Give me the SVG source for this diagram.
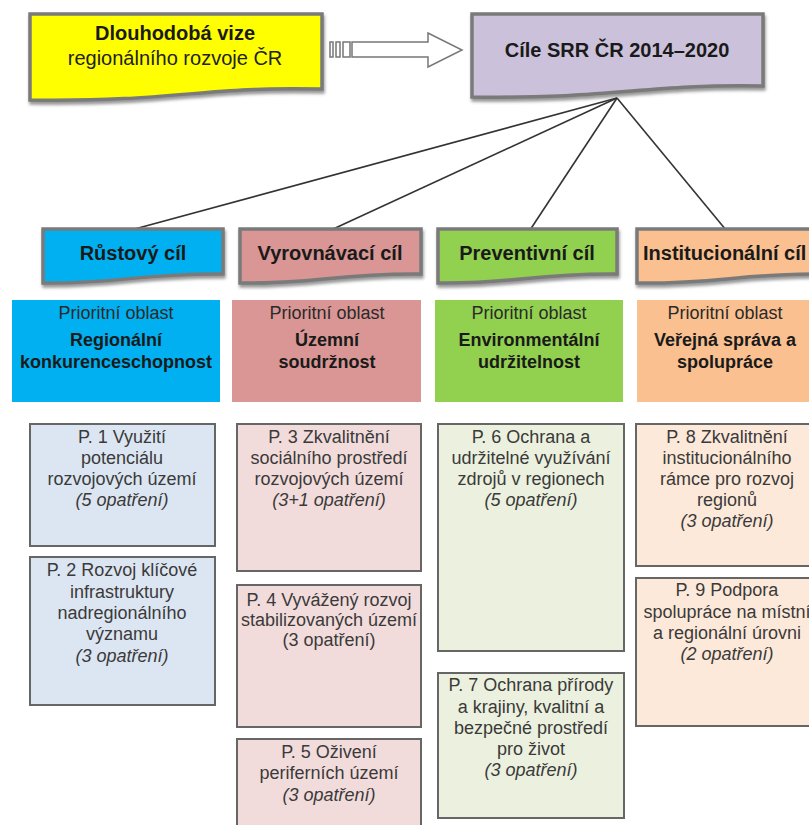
<svg xmlns="http://www.w3.org/2000/svg" width="809" height="825" viewBox="0 0 809 825">
<style>
text{font-family:"Liberation Sans",Arial,sans-serif;text-anchor:middle}
.t{font-size:20px;font-weight:bold;fill:#1a1a1a}
.r{font-size:20px;fill:#222}
.pa{font-size:18px;fill:#2a2a2a}
.pb{font-size:18px;font-weight:bold;fill:#1a1a1a}
.b{font-size:18px;fill:#3a3a3a}
.i{font-style:italic}
.doc{stroke:#7a7a7a;stroke-width:3.5;filter:url(#sh)}
.box{stroke:#666;stroke-width:2}
.con line{stroke:#333;stroke-width:1.6}
</style>
<defs>
<filter id="sh" x="-10%" y="-10%" width="130%" height="140%">
<feDropShadow dx="1" dy="3" stdDeviation="1.5" flood-color="#555" flood-opacity="0.6"/>
</filter>
</defs>
<rect width="809" height="825" fill="#fff"/>

<g id="vize">
<path class="doc" fill="#ffff00" d="M30 14H322V89C200 86 180 102 30 100Z"/>
<text class="t" x="175" y="40">Dlouhodobá vize</text>
<text class="r" x="175" y="65">regionálního rozvoje ČR</text>
</g>

<g id="sipka" fill="#fff" stroke="#777" stroke-width="1.5">
<rect x="330" y="42" width="3" height="15"/>
<rect x="336" y="42" width="4" height="15"/>
<rect x="343" y="42" width="7" height="15"/>
<path d="M352 42H428V33L462 50L428 67V57H352Z"/>
</g>

<g id="cile">
<path class="doc" fill="#ccc1da" d="M472 14H763V86C640 84 620 99 472 97Z"/>
<text class="t" x="617" y="57">Cíle SRR ČR 2014–2020</text>
</g>

<g class="con" id="connectors">
<line x1="617" y1="98" x2="131" y2="230"/>
<line x1="617" y1="98" x2="331" y2="230"/>
<line x1="617" y1="98" x2="530" y2="230"/>
<line x1="617" y1="98" x2="726" y2="230"/>
</g>

<g id="rustovy">
<path class="doc" fill="#00b0f0" d="M43 229H223V274C140 273 120 284 43 283Z"/>
<text class="t" x="133" y="260">Růstový cíl</text>
</g>
<g id="vyrovnavaci">
<path class="doc" fill="#d99694" d="M240 229H421V274C337 273 317 284 240 283Z"/>
<text class="t" x="330" y="260">Vyrovnávací cíl</text>
</g>
<g id="preventivni">
<path class="doc" fill="#92d050" d="M438 229H617V274C534 273 514 284 438 283Z"/>
<text class="t" x="527" y="260">Preventivní cíl</text>
</g>
<g id="institucionalni">
<path class="doc" fill="#fac090" d="M637 229H830V274C740 273 720 284 637 283Z"/>
<text class="t" x="643" y="260" style="text-anchor:start">Institucionální cíl</text>
</g>

<g id="oblast1">
<rect x="12" y="300" width="208" height="102" fill="#00b0f0"/>
<text class="pa" x="116" y="319">Prioritní oblast</text>
<text class="pb" x="116" y="346">Regionální</text>
<text class="pb" x="116" y="368">konkurenceschopnost</text>
</g>
<g id="oblast2">
<rect x="232" y="300" width="189" height="102" fill="#d99694"/>
<text class="pa" x="327" y="319">Prioritní oblast</text>
<text class="pb" x="327" y="346">Územní</text>
<text class="pb" x="327" y="368">soudržnost</text>
</g>
<g id="oblast3">
<rect x="435" y="300" width="188" height="102" fill="#92d050"/>
<text class="pa" x="529" y="319">Prioritní oblast</text>
<text class="pb" x="529" y="346">Environmentální</text>
<text class="pb" x="529" y="368">udržitelnost</text>
</g>
<g id="oblast4">
<rect x="637" y="300" width="180" height="102" fill="#fac090"/>
<text class="pa" x="725" y="319">Prioritní oblast</text>
<text class="pb" x="725" y="346">Veřejná správa a</text>
<text class="pb" x="725" y="368">spolupráce</text>
</g>

<g id="p1">
<rect class="box" x="30" y="424" width="185" height="122" fill="#dce6f2"/>
<text class="b" x="122" y="443">P. 1 Využití</text>
<text class="b" x="122" y="464">potenciálu</text>
<text class="b" x="122" y="485">rozvojových území</text>
<text class="b i" x="122" y="506">(5 opatření)</text>
</g>
<g id="p2">
<rect class="box" x="30" y="557" width="185" height="148" fill="#dce6f2"/>
<text class="b" x="122" y="576">P. 2 Rozvoj klíčové</text>
<text class="b" x="122" y="598">infrastruktury</text>
<text class="b" x="122" y="619">nadregionálního</text>
<text class="b" x="122" y="640">významu</text>
<text class="b i" x="122" y="662">(3 opatření)</text>
</g>
<g id="p3">
<rect class="box" x="237" y="424" width="184" height="147" fill="#f2dcdb"/>
<text class="b" x="329" y="443">P. 3 Zkvalitnění</text>
<text class="b" x="329" y="464">sociálního prostředí</text>
<text class="b" x="329" y="485">rozvojových území</text>
<text class="b i" x="329" y="506">(3+1 opatření)</text>
</g>
<g id="p4">
<rect class="box" x="237" y="585" width="184" height="142" fill="#f2dcdb"/>
<text class="b" x="329" y="606">P. 4 Vyvážený rozvoj</text>
<text class="b" x="329" y="626">stabilizovaných území</text>
<text class="b" x="329" y="646">(3 opatření)</text>
</g>
<g id="p5">
<rect class="box" x="237" y="739" width="184" height="100" fill="#f2dcdb"/>
<text class="b" x="329" y="758">P. 5 Oživení</text>
<text class="b" x="329" y="779">periferních území</text>
<text class="b i" x="329" y="801">(3 opatření)</text>
</g>
<g id="p6">
<rect class="box" x="438" y="424" width="186" height="227" fill="#ebf1de"/>
<text class="b" x="531" y="443">P. 6 Ochrana a</text>
<text class="b" x="531" y="464">udržitelné využívání</text>
<text class="b" x="531" y="485">zdrojů v regionech</text>
<text class="b i" x="531" y="506">(5 opatření)</text>
</g>
<g id="p7">
<rect class="box" x="438" y="673" width="186" height="145" fill="#ebf1de"/>
<text class="b" x="531" y="691">P. 7 Ochrana přírody</text>
<text class="b" x="531" y="713">a krajiny, kvalitní a</text>
<text class="b" x="531" y="734">bezpečné prostředí</text>
<text class="b" x="531" y="755">pro život</text>
<text class="b i" x="531" y="776">(3 opatření)</text>
</g>
<g id="p8">
<rect class="box" x="636" y="424" width="190" height="142" fill="#fde9d9"/>
<text class="b" x="727" y="443">P. 8 Zkvalitnění</text>
<text class="b" x="727" y="464">institucionálního</text>
<text class="b" x="727" y="485">rámce pro rozvoj</text>
<text class="b" x="727" y="506">regionů</text>
<text class="b i" x="727" y="527">(3 opatření)</text>
</g>
<g id="p9">
<rect class="box" x="636" y="578" width="190" height="148" fill="#fde9d9"/>
<text class="b" x="727" y="596">P. 9 Podpora</text>
<text class="b" x="727" y="618">spolupráce na místní</text>
<text class="b" x="727" y="639">a regionální úrovni</text>
<text class="b i" x="727" y="660">(2 opatření)</text>
</g>
</svg>
